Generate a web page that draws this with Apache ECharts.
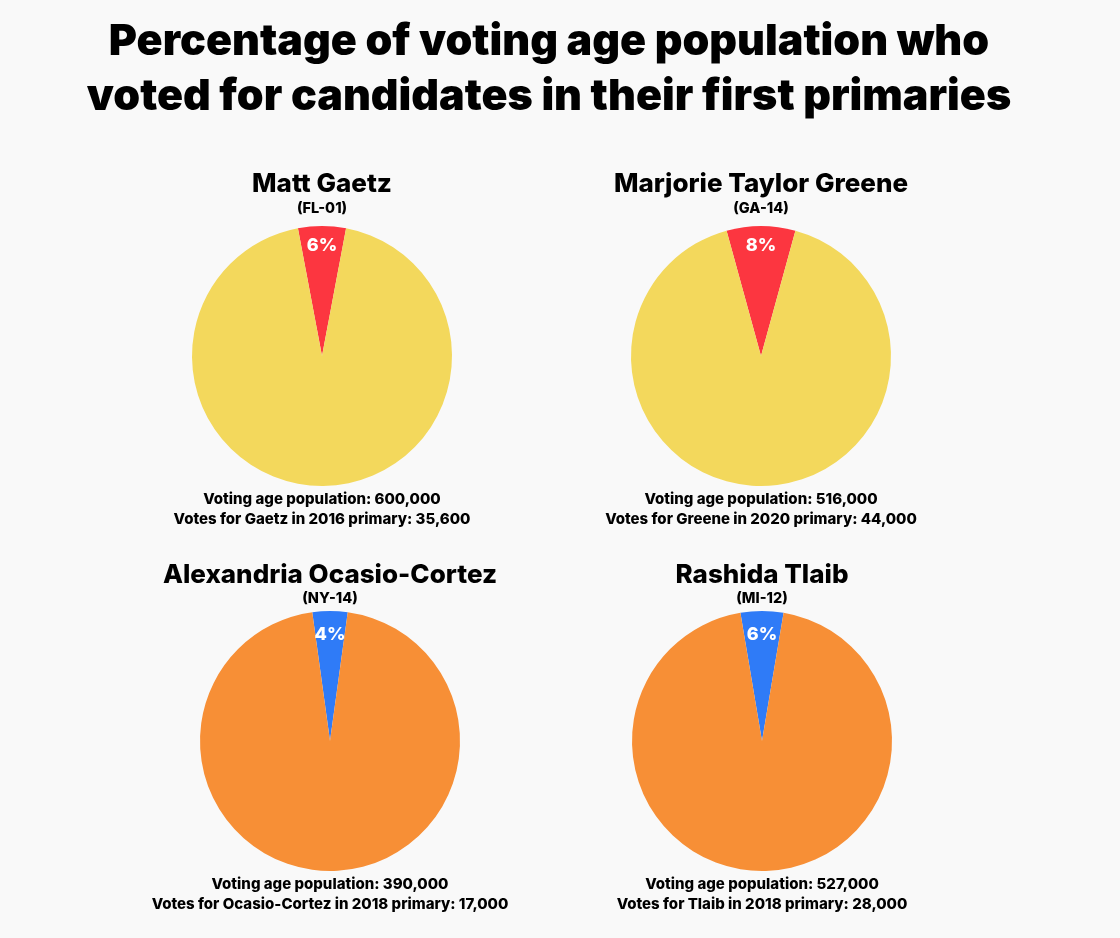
<!DOCTYPE html>
<html>
<head>
<meta charset="utf-8">
<script src="https://cdn.jsdelivr.net/npm/echarts@6/dist/echarts.min.js"></script>
<style>
html,body{margin:0;padding:0;background:#f9f9f9;}
#c{width:1120px;height:938px;}
</style>
</head>
<body>
<div id="c"></div>
<script>
var candidates = ["Matt Gaetz", "Marjorie Taylor Greene", "Alexandria Ocasio-Cortez", "Rashida Tlaib"];
var districts = ["(FL-01)", "(GA-14)", "(NY-14)", "(MI-12)"];
var shortNames = ["Gaetz", "Greene", "Ocasio-Cortez", "Tlaib"];
var years = [2016, 2020, 2018, 2018];
var population = [600000, 516000, 390000, 527000];
var votes = [35600, 44000, 17000, 28000];
var pctLabels = ["6%", "8%", "4%", "6%"];
var voteColors = ["#FC3640", "#FC3640", "#2F7BF7", "#2F7BF7"];
var restColors = ["#F3D85C", "#F3D85C", "#F78F36", "#F78F36"];

var FONT = "Inter";
var centers = [[322, 356], [761, 356], [330, 741], [762, 741]];
var nameY = [184, 184, 575, 575];
var distY = [209, 209, 599, 599];
var labelRing = [46, 46, 54, 54];
var R = 130;

function fmt(n){ return n.toLocaleString('en-US'); }

var titles = [{
  text: "Percentage of voting age population who\nvoted for candidates in their first primaries",
  left: 544, top: 10, textAlign: 'center',
  textStyle: {fontFamily: FONT, fontWeight: 900, fontSize: 43, lineHeight: 55, color: '#000'}
}];
var series = [];
candidates.forEach(function(name, i){
  var cx = centers[i][0], cy = centers[i][1];
  titles.push({text: name, left: cx, top: nameY[i], textAlign: 'center', textVerticalAlign: 'middle',
    padding: 0,
    textStyle: {fontFamily: FONT, fontWeight: 800, fontSize: 26, lineHeight: 26, color: '#000'}});
  titles.push({text: districts[i], left: cx, top: distY[i], textAlign: 'center', textVerticalAlign: 'middle',
    padding: 0,
    textStyle: {fontFamily: FONT, fontWeight: 800, fontSize: 14.5, lineHeight: 15, color: '#000'}});
  titles.push({text: "Voting age population: " + fmt(population[i]) + "\nVotes for " + shortNames[i] + " in " + years[i] + " primary: " + fmt(votes[i]),
    left: cx, top: cy + R + 3, textAlign: 'center', padding: 0,
    textStyle: {fontFamily: FONT, fontWeight: 800, fontSize: 15, lineHeight: 20, color: '#000'}});
  var share = votes[i] / population[i];
  var start = 90 + share * 180;
  var data = [
    {value: votes[i], name: 'Votes', itemStyle: {color: voteColors[i]}},
    {value: population[i] - votes[i], name: 'Other', itemStyle: {color: restColors[i]}}
  ];
  series.push({type: 'pie', center: [cx, cy], radius: [0, R], startAngle: start, clockwise: true,
    silent: true, animation: false, label: {show: false}, labelLine: {show: false},
    itemStyle: {borderWidth: 0}, data: data});
  series.push({type: 'pie', center: [cx, cy], radius: [R - labelRing[i], R], startAngle: start, clockwise: true,
    silent: true, animation: false, labelLine: {show: false},
    itemStyle: {color: 'rgba(0,0,0,0)', borderWidth: 0},
    label: {show: true, position: 'inside', fontFamily: FONT, fontWeight: 800, fontSize: 18, color: '#fff',
      formatter: function(p){ return p.dataIndex === 0 ? pctLabels[i] : ''; }},
    data: [{value: votes[i], name: 'Votes'}, {value: population[i] - votes[i], name: 'Other'}]});
});

var chart = echarts.init(document.getElementById('c'), null, {renderer: 'canvas'});
chart.setOption({backgroundColor: '#f9f9f9', animation: false, title: titles, series: series});
</script>
</body>
</html>
